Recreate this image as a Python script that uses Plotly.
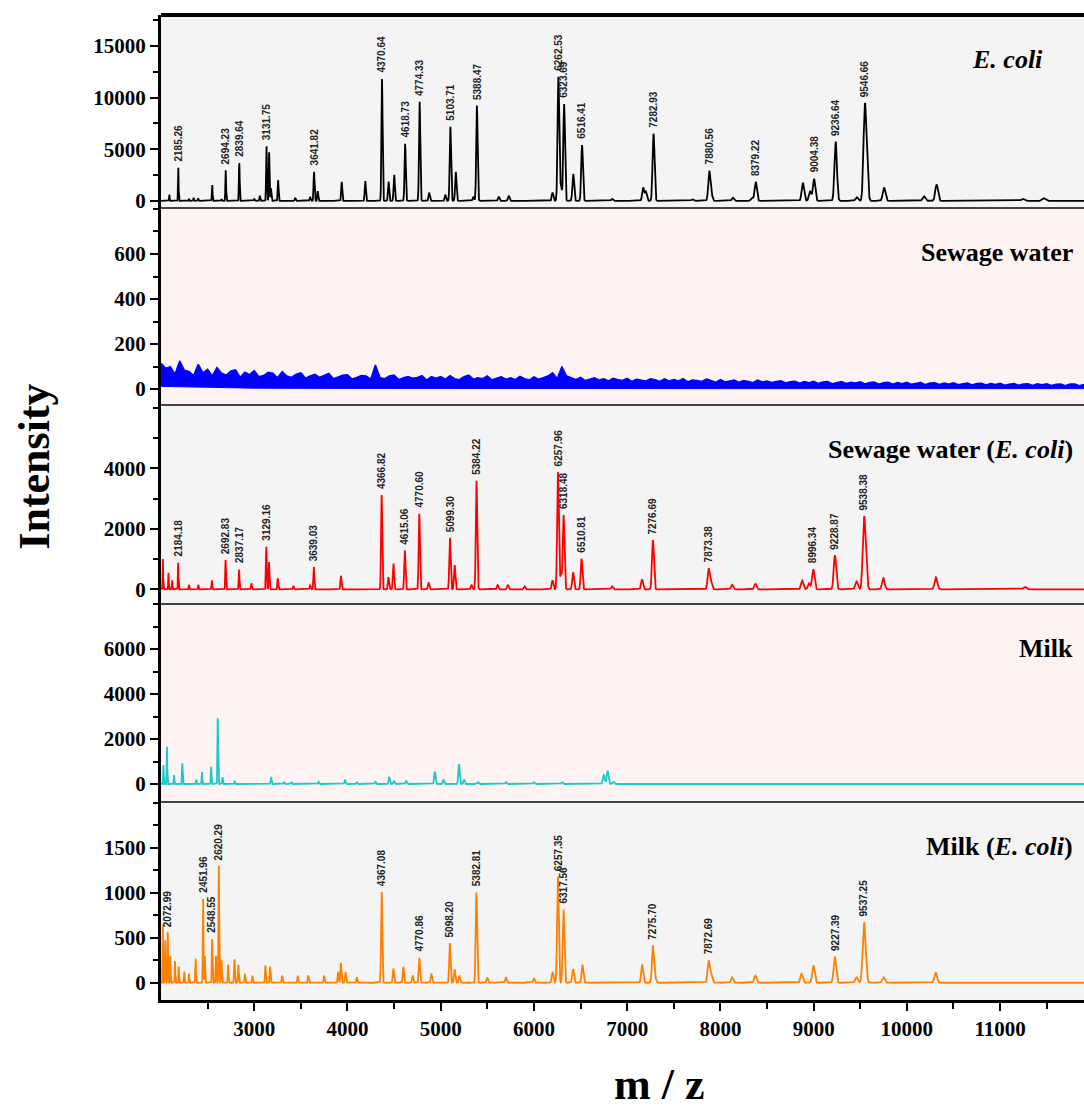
import numpy as np
import plotly.graph_objects as go
from plotly.subplots import make_subplots

# ---------------- data ----------------
MZ_RANGE = [2000, 11900]

# Panel 1: E. coli  (labelled peaks)
ecoli_lab_mz = [2185.26, 2694.23, 2839.64, 3131.75, 3641.82, 4370.64, 4618.73, 4774.33,
                5103.71, 5388.47, 6262.53, 6323.69, 6516.41, 7282.93, 7880.56, 8379.22,
                9004.38, 9236.64, 9546.66]
ecoli_lab_int = [3300, 2970, 3680, 5300, 2810, 11860, 5560, 9600,
                 7170, 9240, 12020, 9370, 5400, 6530, 2880, 1840,
                 2130, 5720, 8000]
ecoli_min_mz = [2089, 2300, 2350, 2400, 2549, 2650, 3000, 3060, 3160, 3180, 3256, 3440, 3600,
                3681, 3938, 4191, 4441, 4501, 4876, 5050, 5162, 5350, 5622, 5730, 6200, 6290,
                6422, 6838, 7171, 7200, 7700, 7905, 8134, 8340, 8884, 8962, 9462, 9568, 9755,
                10183, 10319, 11243, 11468]
ecoli_min_int = [650, 200, 300, 250, 1600, 150, 200, 500, 4700, 1200, 2000, 300, 400,
                 970, 1840, 1940, 1900, 2560, 800, 600, 2810, 400, 400, 500, 800, 1500,
                 2590, 200, 1300, 900, 150, 600, 300, 300, 1750, 900, 350, 4200, 1300,
                 450, 1590, 200, 250]

# Panel 2: Sewage water (noise band: upper envelope every 50 m/z, lower envelope every 1000 m/z)
sewage_upper_mz = list(range(2000, 11901, 50))
sewage_upper_int = [115, 92, 100, 66, 125, 84, 78, 60, 110, 72,
                    88, 58, 95, 70, 62, 80, 85, 52, 75, 64,
                    82, 55, 60, 74, 70, 50, 78, 58, 52, 66,
                    72, 48, 58, 66, 52, 60, 70, 46, 54, 62,
                    64, 45, 52, 60, 58, 44, 107, 50, 46, 58,
                    62, 42, 50, 56, 48, 52, 60, 40, 55, 48,
                    56, 44, 60, 46, 42, 55, 62, 44, 50, 46,
                    58, 40, 48, 54, 44, 50, 42, 56, 46, 40,
                    54, 44, 50, 58, 72, 46, 100, 58, 50, 42,
                    52, 38, 44, 50, 40, 46, 36, 48, 42, 38,
                    48, 34, 44, 40, 36, 46, 42, 34, 45, 36,
                    42, 36, 46, 32, 40, 38, 34, 44, 36, 30,
                    42, 32, 36, 40, 30, 38, 34, 28, 40, 32,
                    36, 29, 34, 37, 27, 33, 35, 26, 34, 28,
                    35, 25, 31, 34, 24, 30, 33, 25, 30, 27,
                    32, 23, 29, 31, 22, 28, 30, 22, 29, 24,
                    30, 21, 26, 29, 20, 27, 28, 20, 27, 22,
                    28, 19, 24, 27, 18, 25, 26, 18, 25, 20,
                    26, 17, 22, 25, 17, 23, 24, 16, 24, 19,
                    24, 16, 21, 23, 15, 22, 22, 15, 21]
sewage_lower_mz = [2000, 3000, 4000, 5000, 6000, 7000, 8000, 9000, 10000, 11000, 11900]
sewage_lower_int = [12, 4, 3, 2, 2, 2, 2, 2, 2, 2, 2]

# Panel 3: Sewage water (E. coli)
sew_ec_lab_mz = [2184.18, 2692.83, 2837.17, 3129.16, 3639.03, 4366.82, 4615.06, 4770.60,
                 5099.30, 5384.22, 6257.96, 6318.48, 6510.81, 7276.69, 7873.38, 8996.34,
                 9228.87, 9538.38]
sew_ec_lab_int = [880, 990, 670, 1430, 750, 3150, 1300, 2510,
                  1710, 3590, 3880, 2460, 1020, 1630, 680, 660,
                  1130, 2000]
sew_ec_min_mz = [2020, 2080, 2120, 2300, 2400, 2545, 2970, 3158, 3253, 3420, 3600, 3930, 4440,
                 4493, 4870, 5150, 5330, 5610, 5720, 5900, 6200, 6290, 6420, 6838, 7159, 7900,
                 8125, 8375, 8877, 8950, 9460, 9558, 9748, 10312, 11265]
sew_ec_min_int = [1000, 550, 300, 150, 150, 310, 200, 900, 370, 120, 150, 450, 400,
                  860, 230, 800, 150, 150, 150, 100, 300, 500, 560, 100, 330, 250,
                  150, 180, 290, 200, 260, 1000, 370, 400, 80]

# Panel 4: Milk
milk_mz = [2025, 2064, 2140, 2228, 2378, 2439, 2538, 2609, 2660, 2790, 3181, 3320, 3400, 3690,
           3973, 4100, 4300, 4448, 4500, 4630, 4937, 5030, 5196, 5250, 5400, 5700, 6000, 6300,
           6750, 6790, 6850]
milk_int = [900, 1660, 400, 920, 200, 550, 770, 2990, 300, 150, 330, 100, 100, 100,
            200, 80, 100, 320, 150, 150, 550, 200, 890, 200, 80, 80, 80, 80,
            400, 600, 100]

# Panel 5: Milk (E. coli)
milk_ec_lab_mz = [2072.99, 2451.96, 2548.55, 2620.29, 4367.08, 4770.86, 5098.20, 5382.81,
                  6257.35, 6317.56, 7275.70, 7872.69, 9227.39, 9537.25]
milk_ec_lab_int = [585, 930, 490, 1300, 1020, 280, 440, 1010,
                   1180, 815, 410, 245, 290, 550]
milk_ec_min_mz = [2020, 2045, 2100, 2150, 2190, 2250, 2300, 2371, 2470, 2590, 2650, 2720, 2788,
                  2830, 2900, 2980, 3120, 3170, 3300, 3467, 3580, 3750, 3900, 3930, 3980, 4100,
                  4493, 4600, 4700, 4900, 5150, 5200, 5500, 5700, 6000, 6200, 6420, 6520, 7160,
                  7300, 7900, 8125, 8375, 8870, 8998, 9460, 9555, 9750, 10310]
milk_ec_min_int = [640, 500, 300, 240, 180, 120, 100, 280, 300, 300, 250, 200, 260,
                   200, 100, 80, 190, 180, 80, 80, 80, 80, 120, 220, 120, 60,
                   160, 180, 80, 100, 150, 80, 60, 60, 50, 120, 150, 200, 200,
                   60, 100, 60, 80, 100, 190, 60, 250, 60, 110]

panel_names = ["<i>E. coli</i>", "Sewage water", "Sewage water (<i>E. coli</i>)",
               "Milk", "Milk (<i>E. coli</i>)"]
colors = ["#000000", "#0000ff", "#ff0000", "#1ec8c8", "#ff8000"]
bgs = ["#f4f4f4", "#fdf3f3", "#f4f4f4", "#fdf3f3", "#f4f4f4"]
y_ranges = [[-700, 18000], [-71, 804], [-486, 6092], [-800, 8000], [-192, 2008]]
y_dtick = [5000, 200, 2000, 2000, 500]
y_minor = [2500, 100, 1000, 1000, 250]
y_tickmax = [15000, 600, 4000, 6000, 1500]
domains = [(0.804, 1.0), (0.604, 0.804), (0.402, 0.604), (0.201, 0.402), (0.0, 0.201)]
title_x = [0.958, 0.99, 0.99, 0.99, 0.99]

SERIF = "Liberation Serif, Times New Roman, serif"

# ---------------- build ----------------
grid = np.arange(MZ_RANGE[0], MZ_RANGE[1] + 1, 2.0)


def spectrum(mzs, ints):
    y = np.zeros_like(grid)
    for m, h in zip(mzs, ints):
        s = 0.0014 * m
        y += h * np.exp(-0.5 * ((grid - m) / s) ** 2)
    return y


fig = make_subplots(rows=5, cols=1, shared_xaxes=True, vertical_spacing=0)

specs = [
    (ecoli_lab_mz + ecoli_min_mz, ecoli_lab_int + ecoli_min_int, ecoli_lab_mz),
    None,
    (sew_ec_lab_mz + sew_ec_min_mz, sew_ec_lab_int + sew_ec_min_int, sew_ec_lab_mz),
    (milk_mz, milk_int, []),
    (milk_ec_lab_mz + milk_ec_min_mz, milk_ec_lab_int + milk_ec_min_int, milk_ec_lab_mz),
]

annotations = []
for i, sp in enumerate(specs):
    row = i + 1
    sfx = "" if row == 1 else str(row)
    if sp is None:
        fig.add_trace(go.Scatter(x=sewage_lower_mz, y=sewage_lower_int, mode="lines",
                                 line=dict(color=colors[i], width=1), showlegend=False),
                      row=row, col=1)
        fig.add_trace(go.Scatter(x=sewage_upper_mz, y=sewage_upper_int, mode="lines",
                                 line=dict(color=colors[i], width=1.5), fill="tonexty",
                                 fillcolor=colors[i], showlegend=False),
                      row=row, col=1)
    else:
        mzs, ints, labs = sp
        y = spectrum(mzs, ints)
        fig.add_trace(go.Scatter(x=grid, y=y, mode="lines",
                                 line=dict(color=colors[i], width=1.8), showlegend=False),
                      row=row, col=1)
        for m in labs:
            s = 0.0014 * m
            win = (grid > m - 2 * s) & (grid < m + 2 * s)
            ytop = float(y[win].max())
            annotations.append(dict(
                x=m, y=ytop, xref="x" + sfx, yref="y" + sfx, text="%.2f" % m,
                textangle=-90, showarrow=False, xanchor="center", yanchor="bottom",
                yshift=4, font=dict(family="Liberation Sans, Arial", size=10,
                                    color="#222222", weight="bold")))
    # panel title
    annotations.append(dict(
        x=title_x[i], y=domains[i][1] - 0.045, xref="paper", yref="paper",
        text="<b>%s</b>" % panel_names[i], showarrow=False, xanchor="right", yanchor="middle",
        font=dict(family=SERIF, size=26, color="#000000")))

    fig.update_yaxes(row=row, col=1, domain=list(domains[i]), range=y_ranges[i],
                     tickmode="array", tickvals=list(range(0, y_tickmax[i] + 1, y_dtick[i])),
                     tickformat="d",
                     ticks="outside", ticklen=8, tickwidth=2, tickcolor="#000",
                     minor=dict(tickmode="linear", tick0=0, dtick=y_minor[i], ticks="outside",
                                ticklen=5, tickwidth=2, tickcolor="#000"),
                     showline=True, linewidth=3, linecolor="#000", showgrid=False,
                     zeroline=False,
                     tickfont=dict(family=SERIF, size=21, color="#000", weight="bold"))
    fig.update_xaxes(row=row, col=1, range=MZ_RANGE, showgrid=False, zeroline=False,
                     showline=False, ticks="")

# bottom x axis
fig.update_xaxes(row=5, col=1, showline=True, linewidth=3, linecolor="#000",
                 tickmode="array", tickvals=list(range(3000, 11001, 1000)), tickformat="d",
                 ticks="outside", ticklen=8, tickwidth=2, tickcolor="#000",
                 minor=dict(tickmode="linear", tick0=2500, dtick=1000, ticks="outside",
                            ticklen=6, tickwidth=2, tickcolor="#000"),
                 showticklabels=True,
                 tickfont=dict(family=SERIF, size=21, color="#000", weight="bold"))

shapes = []
for i, (d0, d1) in enumerate(domains):
    shapes.append(dict(type="rect", xref="paper", yref="paper", x0=0, x1=1, y0=d0, y1=d1,
                       fillcolor=bgs[i], line=dict(width=0), layer="below"))
for i, (d0, d1) in enumerate(domains[:-1]):
    shapes.append(dict(type="line", xref="paper", yref="paper", x0=0, x1=1, y0=d0, y1=d0,
                       line=dict(color="#444444", width=2)))
shapes.append(dict(type="line", xref="paper", yref="paper", x0=0, x1=1, y0=1, y1=1,
                   line=dict(color="#000000", width=4)))

annotations.append(dict(x=-0.137, y=0.541, xref="paper", yref="paper", text="<b>Intensity</b>",
                        textangle=-90, showarrow=False, xanchor="center", yanchor="middle",
                        font=dict(family=SERIF, size=44, color="#000")))
annotations.append(dict(x=0.54, y=-0.086, xref="paper", yref="paper", text="<b>m / z</b>",
                        showarrow=False, xanchor="center", yanchor="middle",
                        font=dict(family=SERIF, size=44, color="#000")))

fig.update_layout(width=1084, height=1113, margin=dict(l=161, r=0, t=15, b=113),
                  paper_bgcolor="#ffffff", plot_bgcolor="rgba(0,0,0,0)",
                  shapes=shapes, annotations=annotations, showlegend=False)

fig.write_html("out.html", config={"displayModeBar": False},
               post_script="document.body.style.margin='0px';"
                           "document.body.style.overflow='hidden';")
